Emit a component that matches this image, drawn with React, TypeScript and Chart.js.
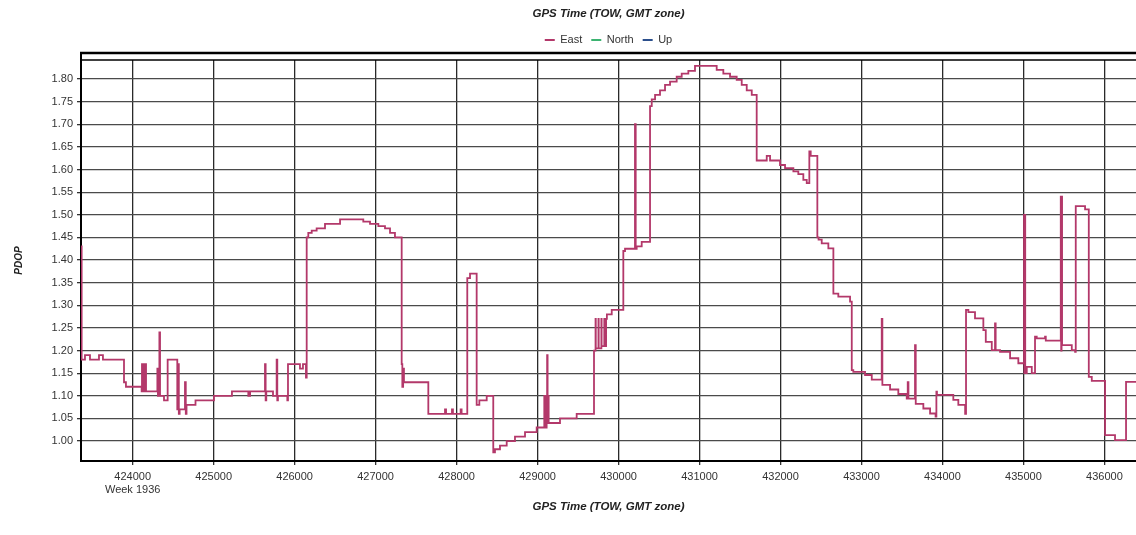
import React, { useEffect, useRef } from 'react';
import { Chart, registerables } from 'chart.js';

Chart.register(...registerables);

// ---- data ----
const seriesNames = ['East', 'North', 'Up'];
const seriesColors = ['#b3386a', '#3cb371', '#2b4f8c'];

const eastTow = [
  423362, 423370, 423411, 423473, 423584, 423633, 423893, 423917, 424111, 424115,
  424125, 424135, 424145, 424155, 424165, 424305, 424312, 424330, 424338, 424387,
  424432, 424551, 424560, 424570, 424580, 424646, 424656, 424665, 424776, 425004,
  425226, 425428, 425450, 425634, 425642, 425650, 425733, 425778, 425786, 425794,
  425910, 425918, 426066, 426103, 426140, 426149, 426169, 426211, 426272, 426375,
  426561, 426848, 426931, 427034, 427116, 427178, 427239, 427322, 427330, 427340,
  427350, 427651, 427857, 427870, 427943, 427955, 428050, 428062, 428132, 428166,
  428248, 428281, 428372, 428453, 428474, 428536, 428619, 428721, 428845, 428989,
  429083, 429090, 429098, 429105, 429112, 429118, 429124, 429130, 429137, 429277,
  429483, 429697, 429716, 429719, 429752, 429755, 429788, 429791, 429824, 429827,
  429846, 429856, 429916, 430059, 430080, 430203, 430212, 430224, 430286, 430389,
  430410, 430451, 430512, 430574, 430636, 430718, 430780, 430862, 430944, 431212,
  431294, 431377, 431459, 431521, 431583, 431645, 431706, 431830, 431871, 431994,
  432056, 432159, 432220, 432282, 432324, 432356, 432373, 432455, 432470, 432509,
  432591, 432653, 432714, 432859, 432880, 432899, 433044, 433127, 433250, 433258,
  433353, 433455, 433559, 433571, 433580, 433661, 433670, 433764, 433847, 433915,
  433925, 433932, 434134, 434196, 434280, 434291, 434320, 434402, 434505, 434535,
  434609, 434649, 434657, 434711, 434835, 434937, 435007, 435012, 435017, 435022,
  435041, 435103, 435143, 435164, 435267, 435276, 435461, 435466, 435471, 435477,
  435597, 435638, 435646, 435761, 435807, 435844, 436008, 436131, 436267, 436390,
];

const eastPdop = [
  1.43, 1.18, 1.19, 1.18, 1.19, 1.18, 1.13, 1.12, 1.11, 1.17,
  1.11, 1.17, 1.11, 1.17, 1.11, 1.16, 1.10, 1.24, 1.10, 1.09,
  1.18, 1.07, 1.17, 1.06, 1.07, 1.13, 1.06, 1.08, 1.09, 1.10,
  1.11, 1.10, 1.11, 1.17, 1.09, 1.11, 1.10, 1.18, 1.09, 1.10,
  1.09, 1.17, 1.16, 1.17, 1.14, 1.45, 1.46, 1.465, 1.47, 1.48,
  1.49, 1.485, 1.48, 1.475, 1.47, 1.46, 1.45, 1.17, 1.12, 1.16,
  1.13, 1.06, 1.07, 1.06, 1.07, 1.06, 1.07, 1.06, 1.36, 1.37,
  1.08, 1.09, 1.10, 0.975, 0.982, 0.99, 1.00, 1.01, 1.02, 1.03,
  1.10, 1.04, 1.10, 1.03, 1.10, 1.19, 1.04, 1.10, 1.04, 1.05,
  1.06, 1.20, 1.27, 1.205, 1.27, 1.205, 1.27, 1.21, 1.27, 1.21,
  1.27, 1.28, 1.29, 1.42, 1.425, 1.70, 1.425, 1.43, 1.44, 1.74,
  1.755, 1.765, 1.775, 1.787, 1.794, 1.805, 1.812, 1.818, 1.829, 1.82,
  1.812, 1.805, 1.798, 1.787, 1.775, 1.765, 1.62, 1.63, 1.62, 1.61,
  1.603, 1.596, 1.59, 1.577, 1.57, 1.64, 1.63, 1.45, 1.445, 1.437,
  1.426, 1.326, 1.319, 1.308, 1.157, 1.153, 1.146, 1.136, 1.27, 1.124,
  1.114, 1.104, 1.094, 1.13, 1.094, 1.212, 1.082, 1.072, 1.061, 1.054,
  1.109, 1.102, 1.091, 1.08, 1.06, 1.29, 1.285, 1.271, 1.245, 1.219,
  1.201, 1.26, 1.201, 1.197, 1.183, 1.172, 1.50, 1.15, 1.50, 1.15,
  1.164, 1.15, 1.231, 1.227, 1.231, 1.222, 1.54, 1.20, 1.54, 1.212,
  1.201, 1.197, 1.519, 1.512, 1.142, 1.133, 1.013, 1.002, 1.131, 1.131,
];

const northTow: number[] = [];
const northPdop: number[] = [];
const upTow: number[] = [];
const upPdop: number[] = [];

const xTickValues = [
  424000, 425000, 426000, 427000, 428000, 429000, 430000,
  431000, 432000, 433000, 434000, 435000, 436000,
];
const yTickValues = [
  1.0, 1.05, 1.1, 1.15, 1.2, 1.25, 1.3, 1.35, 1.4, 1.45, 1.5, 1.55,
  1.6, 1.65, 1.7, 1.75, 1.8,
];
const weekLabel = 'Week 1936';
const timeTitle = 'GPS Time (TOW, GMT zone)';
const yTitle = 'PDOP';
const xMin = 423362;
const xMax = 436390;
const yMin = 0.956;
const yMax = 1.842;

const FONT = '"Liberation Sans", Arial, sans-serif';

const toPoints = (xs: number[], ys: number[]) => xs.map((x, i) => ({ x, y: ys[i] }));

const frameLines = {
  id: 'frameLines',
  afterDraw(chart: any) {
    const { ctx, chartArea } = chart;
    const { left, top, right } = chartArea;
    ctx.save();
    ctx.strokeStyle = '#000';
    ctx.lineWidth = 2.5;
    ctx.beginPath();
    ctx.moveTo(left - 1, top - 7);
    ctx.lineTo(right, top - 7);
    ctx.stroke();
    ctx.lineWidth = 1.5;
    ctx.beginPath();
    ctx.moveTo(left, top);
    ctx.lineTo(right, top);
    ctx.stroke();
    ctx.lineWidth = 2;
    ctx.beginPath();
    ctx.moveTo(left, top - 8);
    ctx.lineTo(left, top + 1);
    ctx.stroke();
    ctx.restore();
  },
};

export default function App() {
  const canvasRef = useRef<HTMLCanvasElement | null>(null);

  useEffect(() => {
    const canvas = canvasRef.current;
    if (!canvas) return;
    const series = [
      toPoints(eastTow, eastPdop),
      toPoints(northTow, northPdop),
      toPoints(upTow, upPdop),
    ];
    const chart = new Chart(canvas, {
      type: 'line',
      data: {
        datasets: seriesNames.map((name, i) => ({
          label: name,
          data: series[i],
          borderColor: seriesColors[i],
          backgroundColor: seriesColors[i],
          borderWidth: 1.8,
          pointRadius: 0,
          stepped: 'before' as const,
          fill: false,
        })),
      },
      options: {
        animation: false,
        responsive: false,
        devicePixelRatio: 1,
        layout: { padding: 0 },
        plugins: {
          title: {
            display: true,
            text: timeTitle,
            fullSize: false,
            weight: 2000,
            color: '#222',
            font: { family: FONT, size: 11.5, weight: 'bold', style: 'italic', lineHeight: 1.2 },
            padding: { top: 6.5, bottom: 5.2 },
          },
          legend: {
            display: true,
            position: 'top',
            fullSize: false,
            weight: 1000,
            labels: {
              usePointStyle: true,
              pointStyle: 'line',
              pointStyleWidth: 10,
              boxWidth: 10,
              padding: 9,
              color: '#333',
              font: { family: FONT, size: 11 },
            },
          },
          subtitle: {
            display: true,
            text: '',
            position: 'top',
            fullSize: false,
            weight: 500,
            font: { family: FONT, size: 4.5, lineHeight: 1 },
            padding: 0,
          },
          tooltip: { enabled: false },
        },
        scales: {
          x: {
            type: 'linear',
            position: 'bottom',
            min: xMin,
            max: xMax,
            afterBuildTicks: (scale: any) => {
              scale.ticks = xTickValues.map((v) => ({ value: v }));
            },
            afterFit: (scale: any) => {
              scale.height = 74;
            },
            ticks: {
              autoSkip: false,
              maxRotation: 0,
              minRotation: 0,
              padding: 5,
              color: '#333',
              font: { family: FONT, size: 11 },
              callback: (value: any) =>
                value === xTickValues[0] ? [String(value), weekLabel] : String(value),
            },
            grid: {
              color: '#2a2a2a',
              lineWidth: 1.3,
              drawTicks: true,
              tickLength: 4,
              tickColor: '#333',
            },
            border: { display: true, color: '#000', width: 2 },
            title: {
              display: true,
              text: timeTitle,
              color: '#222',
              font: { family: FONT, size: 11.5, weight: 'bold', style: 'italic', lineHeight: 1.2 },
              padding: { top: 0, bottom: 21 },
            },
          },
          y: {
            type: 'linear',
            position: 'left',
            min: yMin,
            max: yMax,
            afterBuildTicks: (scale: any) => {
              scale.ticks = yTickValues.map((v) => ({ value: v }));
            },
            afterFit: (scale: any) => {
              scale.width = 81;
            },
            ticks: {
              padding: 4,
              color: '#333',
              font: { family: FONT, size: 11 },
              callback: (value: any) => Number(value).toFixed(2),
            },
            grid: {
              color: '#4a4a4a',
              lineWidth: 1.3,
              drawTicks: true,
              tickLength: 4,
              tickColor: '#333',
            },
            border: { display: true, color: '#000', width: 2 },
            title: {
              display: true,
              text: yTitle,
              color: '#222',
              font: { family: FONT, size: 10, weight: 'bold', style: 'italic', lineHeight: 1.2 },
              padding: { top: 13, bottom: 0 },
            },
          },
        },
      },
      plugins: [frameLines],
    } as any);
    return () => chart.destroy();
  }, []);

  return (
    <div style={{ position: 'absolute', left: 0, top: 0, width: 1136, height: 535, background: '#fff' }}>
      <canvas ref={canvasRef} width={1136} height={535} style={{ width: 1136, height: 535 }} />
    </div>
  );
}
